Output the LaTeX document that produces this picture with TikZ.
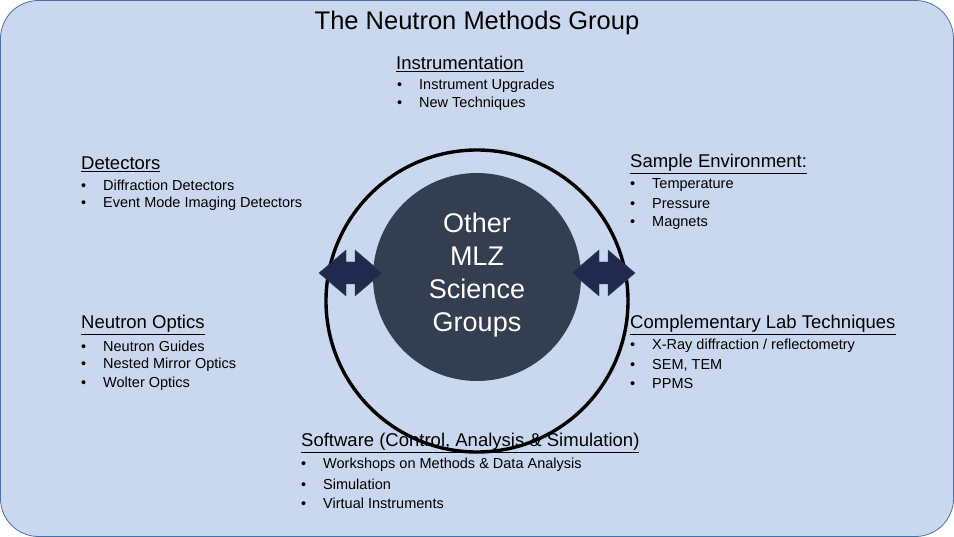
\documentclass[tikz,border=0pt]{standalone}
\usepackage{fontspec}
\setmainfont{Liberation Sans}
\definecolor{panel}{HTML}{C9D8EE}
\definecolor{panelline}{HTML}{4A6FA5}
\definecolor{core}{HTML}{333F50}
\definecolor{arrowfill}{HTML}{1F2A4E}
\tikzset{
  heading/.style={anchor=west, inner sep=0pt, font=\fontsize{18.5}{22}\selectfont},
  entry/.style={anchor=west, inner sep=0pt, font=\fontsize{14.5}{17}\selectfont},
}
\newcommand{\blt}[1]{\makebox[22pt][l]{\textbullet}#1}
% double headed block arrow, left tip at x = #1
\newcommand{\dblarrow}[1]{%
  \fill[arrowfill, draw=core, line width=0.4pt, shift={(#1,273)}]
    (0,0) -- (27,-23) -- (27,-11) -- (36,-11) -- (36,-23) -- (63,0)
    -- (36,23) -- (36,11) -- (27,11) -- (27,23) -- cycle;}

\begin{document}
\begin{tikzpicture}[x=1pt, y=-1pt]
  \useasboundingbox (0,0) rectangle (954,537);
  \draw[fill=panel, draw=panelline, line width=0.8pt, rounded corners=38pt]
    (0.5,0.5) rectangle (953.5,536.5);
  \node (title) at (477,23) [font=\fontsize{25.5}{30}\selectfont] {The Neutron Methods Group};

  \draw[line width=3.4pt] (477,301) circle (151);
  \node (groups) at (477,277) [circle, fill=core, minimum size=208pt, text=white,
    align=center, font=\fontsize{27}{33}\selectfont] {};
  \node (grouptext) at (477,275) [text=white, align=center,
    font=\fontsize{27}{33}\selectfont] {Other\\MLZ\\Science\\Groups};
  \dblarrow{319}
  \dblarrow{572}

  % instrumentation
  \node (instr) at (396,64) [heading] {\underline{Instrumentation}};
  \node (instr1) at (397,86) [entry] {\blt{Instrument Upgrades}};
  \node (instr2) at (397,104) [entry] {\blt{New Techniques}};
  % detectors
  \node (det) at (81,164) [heading] {\underline{Detectors}};
  \node (det1) at (81,185) [entry] {\blt{Diffraction Detectors}};
  \node (det2) at (81,204) [entry] {\blt{Event Mode Imaging Detectors}};
  % sample environment
  \node (env) at (630,164) [heading] {\underline{Sample Environment:}};
  \node (env1) at (630,185) [entry] {\blt{Temperature}};
  \node (env2) at (630,204) [entry] {\blt{Pressure}};
  \node (env3) at (630,223) [entry] {\blt{Magnets}};
  % neutron optics
  \node (opt) at (81,325) [heading] {\underline{Neutron Optics}};
  \node (opt1) at (81,346) [entry] {\blt{Neutron Guides}};
  \node (opt2) at (81,365) [entry] {\blt{Nested Mirror Optics}};
  \node (opt3) at (81,384) [entry] {\blt{Wolter Optics}};
  % lab techniques
  \node (lab) at (630,325) [heading] {\underline{Complementary Lab Techniques}};
  \node (lab1) at (630,346) [entry] {\blt{X-Ray diffraction / reflectometry}};
  \node (lab2) at (630,365) [entry] {\blt{SEM, TEM}};
  \node (lab3) at (630,384) [entry] {\blt{PPMS}};
  % software
  \node (soft) at (301,443) [heading] {\underline{Software (Control, Analysis \& Simulation)}};
  \node (soft1) at (301,465) [entry] {\blt{Workshops on Methods \& Data Analysis}};
  \node (soft2) at (301,484) [entry] {\blt{Simulation}};
  \node (soft3) at (301,503) [entry] {\blt{Virtual Instruments}};
\end{tikzpicture}
\end{document}
